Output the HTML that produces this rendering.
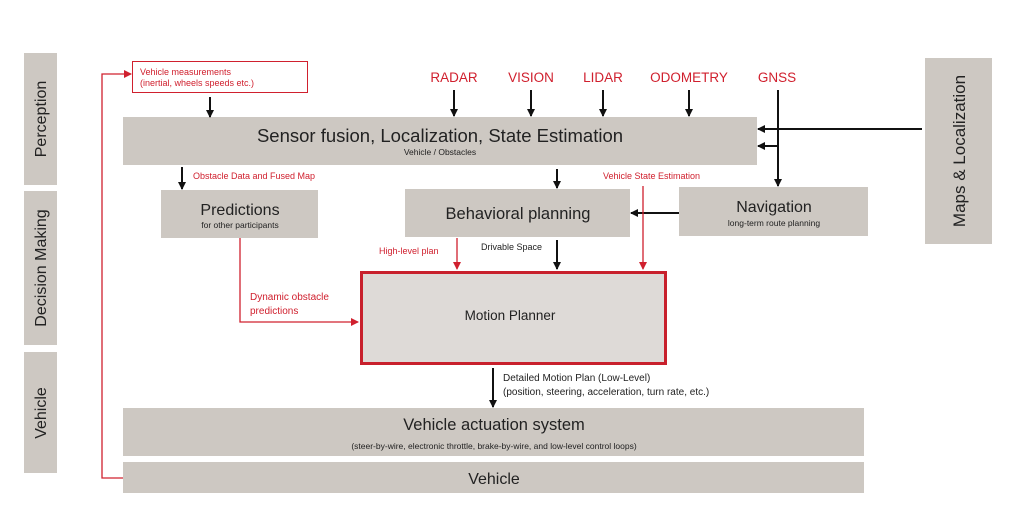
<!DOCTYPE html>
<html><head><meta charset="utf-8"><style>
body{margin:0;background:#fff;}
svg{display:block;font-family:"Liberation Sans",sans-serif;}
</style></head><body>
<svg width="1010" height="508" viewBox="0 0 1010 508" xmlns="http://www.w3.org/2000/svg">
<defs>
<marker id="ab" markerWidth="8" markerHeight="8" refX="7" refY="4" orient="auto" markerUnits="userSpaceOnUse"><path d="M0,0 L8,4 L0,8 z" fill="#111"/></marker>
<marker id="ar" markerWidth="8" markerHeight="8" refX="7" refY="4" orient="auto" markerUnits="userSpaceOnUse"><path d="M0,0 L8,4 L0,8 z" fill="#d0202e"/></marker>
</defs>
<g fill="#cdc8c2">
<rect x="24" y="53" width="33" height="132"/>
<rect x="24" y="191" width="33" height="154"/>
<rect x="24" y="352" width="33" height="121"/>
<rect x="925" y="58" width="67" height="186"/>
<rect x="123" y="117" width="634" height="48"/>
<rect x="161" y="190" width="157" height="48"/>
<rect x="405" y="189" width="225" height="48"/>
<rect x="679" y="187" width="189" height="49"/>
<rect x="123" y="408" width="741" height="48"/>
<rect x="123" y="462" width="741" height="31"/>
</g>
<rect x="361.5" y="272.5" width="304" height="91" fill="#dedad7" stroke="#c8202c" stroke-width="3"/>
<rect x="132.5" y="61.5" width="175" height="31" fill="#fff" stroke="#d0202e" stroke-width="1"/>
<g fill="#222" font-size="16" text-anchor="middle">
<text transform="translate(46,119) rotate(-90)">Perception</text>
<text transform="translate(46,268) rotate(-90)">Decision Making</text>
<text transform="translate(46,413) rotate(-90)">Vehicle</text>
<text transform="translate(965,151) rotate(-90)" font-size="17">Maps &amp; Localization</text>
<text x="440" y="142" font-size="18.5">Sensor fusion, Localization, State Estimation</text>
<text x="440" y="155" font-size="8.5">Vehicle / Obstacles</text>
<text x="240" y="215" font-size="16">Predictions</text>
<text x="240" y="228" font-size="8.5">for other participants</text>
<text x="518" y="219" font-size="16.5">Behavioral planning</text>
<text x="774" y="212" font-size="16">Navigation</text>
<text x="774" y="226" font-size="8.5">long-term route planning</text>
<text x="510" y="320" font-size="13.5">Motion Planner</text>
<text x="494" y="430" font-size="16.5">Vehicle actuation system</text>
<text x="494" y="449" font-size="8.5">(steer-by-wire, electronic throttle, brake-by-wire, and low-level control loops)</text>
<text x="494" y="484" font-size="16">Vehicle</text>
</g>
<g fill="#d0202e" font-size="13.5" text-anchor="middle">
<text x="454" y="82">RADAR</text>
<text x="531" y="82">VISION</text>
<text x="603" y="82">LIDAR</text>
<text x="689" y="82">ODOMETRY</text>
<text x="777" y="82">GNSS</text>
</g>
<g fill="#d0202e" font-size="9">
<text x="140" y="75">Vehicle measurements</text>
<text x="140" y="86">(inertial, wheels speeds etc.)</text>
<text x="193" y="179">Obstacle Data and Fused Map</text>
<text x="603" y="179">Vehicle State Estimation</text>
<text x="379" y="254">High-level plan</text>
<text x="250" y="300" font-size="10">Dynamic obstacle</text>
<text x="250" y="314" font-size="10">predictions</text>
</g>
<g fill="#222" font-size="9">
<text x="481" y="250">Drivable Space</text>
<text x="503" y="381" font-size="10">Detailed Motion Plan (Low-Level)</text>
<text x="503" y="395" font-size="10">(position, steering, acceleration, turn rate, etc.)</text>
</g>
<g stroke="#111" stroke-width="2" fill="none" marker-end="url(#ab)">
<line x1="210" y1="97" x2="210" y2="117"/>
<line x1="454" y1="90" x2="454" y2="116"/>
<line x1="531" y1="90" x2="531" y2="116"/>
<line x1="603" y1="90" x2="603" y2="116"/>
<line x1="689" y1="90" x2="689" y2="116"/>
<line x1="778" y1="90" x2="778" y2="186"/>
<line x1="922" y1="129" x2="758" y2="129"/>
<line x1="778" y1="146" x2="758" y2="146"/>
<line x1="182" y1="167" x2="182" y2="189"/>
<line x1="557" y1="169" x2="557" y2="188"/>
<line x1="679" y1="213" x2="631" y2="213"/>
<line x1="557" y1="240" x2="557" y2="269"/>
<line x1="493" y1="368" x2="493" y2="407"/>
</g>
<g stroke="#d0202e" stroke-width="1.3" fill="none" marker-end="url(#ar)">
<line x1="643" y1="186" x2="643" y2="269"/>
<line x1="457" y1="238" x2="457" y2="269"/>
<polyline points="240,238 240,322 358,322"/>
<polyline points="123,478 102,478 102,74 131,74"/>
</g>
</svg>
</body></html>
